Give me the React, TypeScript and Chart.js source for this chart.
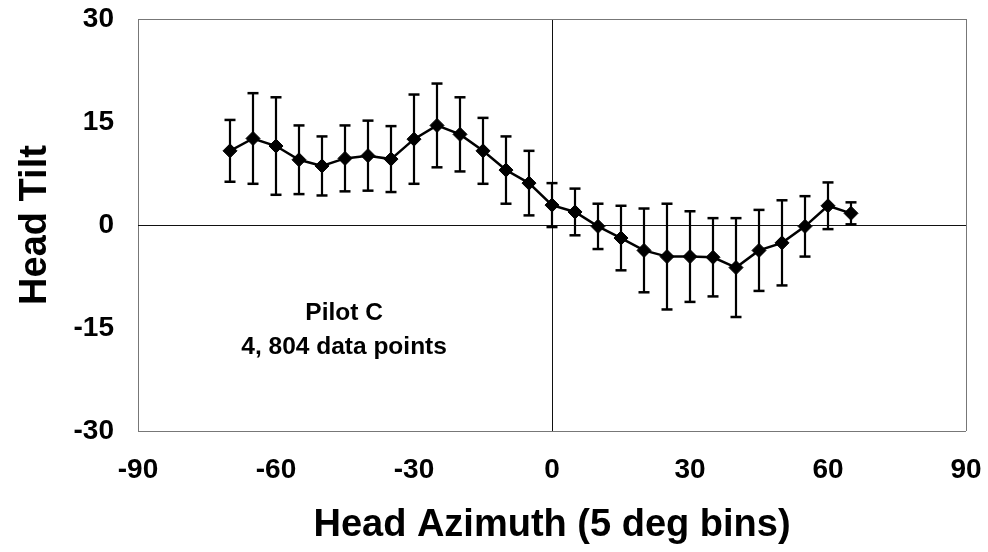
import React, { useEffect, useRef } from "react";
import { Chart, registerables } from "chart.js";

Chart.register(...registerables);

// Head azimuth bins (deg)
const azimuthBins: number[] = [
  -70, -65, -60, -55, -50, -45, -40, -35, -30, -25, -20, -15, -10, -5,
  0, 5, 10, 15, 20, 25, 30, 35, 40, 45, 50, 55, 60, 65,
];
// Mean head tilt per bin
const tiltMean: number[] = [
  10.8, 12.6, 11.5, 9.5, 8.6, 9.7, 10.1, 9.6, 12.5, 14.5, 13.2, 10.8, 8.0, 6.1,
  2.9, 1.9, -0.2, -1.9, -3.7, -4.6, -4.6, -4.7, -6.2, -3.7, -2.6, -0.2, 2.8, 1.7,
];
// Error bar half-length (± SD)
const tiltSD: number[] = [
  4.5, 6.6, 7.1, 5.0, 4.3, 4.8, 5.1, 4.8, 6.5, 6.1, 5.4, 4.8, 4.9, 4.7,
  3.2, 3.4, 3.3, 4.7, 6.1, 7.7, 6.6, 5.7, 7.2, 5.9, 6.2, 4.4, 3.4, 1.6,
];

const xTickRange = { min: -90, max: 90, step: 30 };
const yTickRange = { min: -30, max: 30, step: 15 };

const xTitle = "Head Azimuth (5 deg bins)";
const yTitle = "Head Tilt";
const noteLines: string[] = ["Pilot C", "4, 804 data points"];
const notePosition = { x: -45.2, y: -12.8 };

const FONT = "'Liberation Sans', Arial, Helvetica, sans-serif";

export default function App() {
  const canvasRef = useRef<HTMLCanvasElement | null>(null);

  useEffect(() => {
    if (!canvasRef.current) return;

    const meanPoints = azimuthBins.map((x, i) => ({ x, y: tiltMean[i] }));
    const errPoints: { x: number; y: number | null }[] = [];
    azimuthBins.forEach((x, i) => {
      errPoints.push({ x, y: tiltMean[i] - tiltSD[i] });
      errPoints.push({ x, y: tiltMean[i] + tiltSD[i] });
      errPoints.push({ x, y: null });
    });

    const notePlugin = {
      id: "note",
      afterDatasetsDraw(chart: any) {
        const { ctx, scales } = chart;
        const px = scales.x.getPixelForValue(notePosition.x);
        const py = scales.y.getPixelForValue(notePosition.y);
        ctx.save();
        ctx.fillStyle = "#000";
        ctx.font = `bold 24.5px ${FONT}`;
        ctx.textAlign = "center";
        ctx.textBaseline = "middle";
        noteLines.forEach((t, i) => ctx.fillText(t, px, py + i * 34));
        ctx.restore();
      },
    };

    const gridColor = (range: { min: number; max: number }) => (c: any) => {
      const v = c.tick?.value;
      if (v === 0) return "#111";
      if (v === range.min || v === range.max) return "#777";
      return "rgba(0,0,0,0)";
    };

    const chart = new Chart(canvasRef.current, {
      type: "line",
      data: {
        datasets: [
          {
            data: meanPoints,
            borderColor: "#000",
            backgroundColor: "#000",
            borderWidth: 2.5,
            pointStyle: "rectRot",
            pointRadius: 7,
            pointBorderWidth: 1,
            pointBackgroundColor: "#000",
            pointBorderColor: "#000",
            order: 0,
          },
          {
            data: errPoints,
            borderColor: "#000",
            backgroundColor: "#000",
            borderWidth: 2.2,
            pointStyle: "line",
            pointRadius: 5.5,
            pointBorderWidth: 2.5,
            pointBorderColor: "#000",
            spanGaps: false,
            order: 1,
          },
        ] as any,
      },
      options: {
        animation: false,
        responsive: false,
        devicePixelRatio: 1,
        events: [],
        layout: { padding: { top: 19, right: 22, left: 0, bottom: 0 } },
        plugins: {
          legend: { display: false },
          tooltip: { enabled: false },
        },
        scales: {
          x: {
            type: "linear",
            min: xTickRange.min,
            max: xTickRange.max,
            afterFit: (s: any) => {
              s.height = 121;
              s.paddingLeft = 0;
              s.paddingRight = 0;
            },
            ticks: {
              stepSize: xTickRange.step,
              color: "#000",
              padding: 22,
              font: { family: FONT, size: 28, weight: "bold" },
            },
            grid: {
              drawTicks: false,
              lineWidth: 1,
              color: gridColor(xTickRange),
            },
            border: { display: false },
            title: {
              display: true,
              text: xTitle,
              color: "#000",
              padding: { top: 0, bottom: 4 },
              font: { family: FONT, size: 38, weight: "bold" },
            },
          },
          y: {
            type: "linear",
            min: yTickRange.min,
            max: yTickRange.max,
            afterFit: (s: any) => {
              s.width = 138;
              s.paddingTop = 0;
              s.paddingBottom = 0;
            },
            ticks: {
              stepSize: yTickRange.step,
              color: "#000",
              padding: 24,
              font: { family: FONT, size: 28, weight: "bold" },
            },
            grid: {
              drawTicks: false,
              lineWidth: 1,
              color: gridColor(yTickRange),
            },
            border: { display: false },
            title: {
              display: true,
              text: yTitle,
              color: "#000",
              padding: { top: 13, bottom: 0 },
              font: { family: FONT, size: 38, weight: "bold" },
            },
          },
        },
      } as any,
      plugins: [notePlugin],
    });

    return () => chart.destroy();
  }, []);

  return (
    <div
      style={{
        position: "absolute",
        left: 0,
        top: 0,
        width: 988,
        height: 552,
        background: "#fff",
      }}
    >
      <canvas ref={canvasRef} width={988} height={552} />
    </div>
  );
}
